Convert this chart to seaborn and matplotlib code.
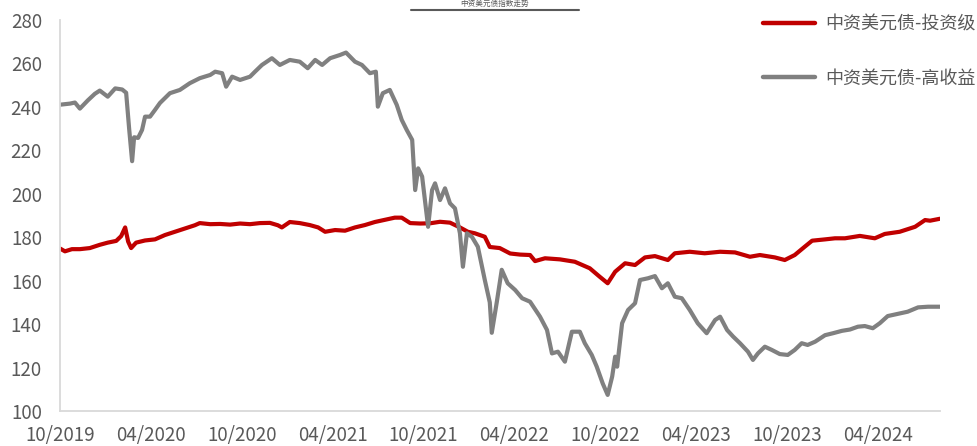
import pandas as pd
import matplotlib.pyplot as plt
import matplotlib.dates as mdates
from matplotlib.lines import Line2D
import seaborn as sns

# ==========================================
# DATA
# ==========================================

series_names = ["中资美元债-投资级", "中资美元债-高收益"]
series_colors = ["#C00000", "#808080"]

ig_dates = [
    "2019-10-01", "2019-10-11", "2019-10-25", "2019-11-10", "2019-11-30",
    "2019-12-20", "2020-01-05", "2020-01-22", "2020-02-01", "2020-02-09",
    "2020-02-15", "2020-02-21", "2020-03-02", "2020-03-20", "2020-04-09",
    "2020-04-29", "2020-05-19", "2020-06-08", "2020-06-28", "2020-07-08",
    "2020-07-29", "2020-08-18", "2020-09-07", "2020-09-27", "2020-10-17",
    "2020-11-06", "2020-11-26", "2020-12-12", "2020-12-20", "2021-01-05",
    "2021-01-25", "2021-02-14", "2021-03-03", "2021-03-17", "2021-04-06",
    "2021-04-26", "2021-05-16", "2021-06-05", "2021-06-25", "2021-07-15",
    "2021-08-04", "2021-08-18", "2021-09-04", "2021-09-24", "2021-10-14",
    "2021-11-03", "2021-11-23", "2021-12-13", "2021-12-29", "2022-01-12",
    "2022-02-01", "2022-02-11", "2022-03-03", "2022-03-24", "2022-04-13",
    "2022-05-03", "2022-05-13", "2022-06-02", "2022-07-02", "2022-08-01",
    "2022-08-31", "2022-09-20", "2022-10-06", "2022-10-21", "2022-11-10",
    "2022-11-30", "2022-12-20", "2023-01-09", "2023-02-04", "2023-02-18",
    "2023-03-20", "2023-04-19", "2023-05-20", "2023-06-19", "2023-07-19",
    "2023-08-08", "2023-09-07", "2023-09-27", "2023-10-17", "2023-11-06",
    "2023-11-21", "2023-12-17", "2024-01-06", "2024-01-26", "2024-02-25",
    "2024-03-26", "2024-04-15", "2024-05-15", "2024-06-15", "2024-07-05",
    "2024-07-15", "2024-08-04",
]
ig_values = [
    174.8, 173.5, 174.5, 174.5, 175.0,
    176.5, 177.5, 178.3, 180.5, 184.5,
    178.0, 175.0, 177.5, 178.5, 179.0,
    181.0, 182.5, 184.0, 185.5, 186.5,
    186.0, 186.1, 185.8, 186.3, 186.0,
    186.5, 186.6, 185.5, 184.5, 187.0,
    186.5, 185.6, 184.5, 182.5, 183.3,
    183.0, 184.5, 185.6, 187.0, 188.0,
    189.0, 189.0, 186.5, 186.3, 186.4,
    187.1, 186.7, 184.5, 182.5, 181.8,
    180.2, 175.5, 175.0, 172.5, 172.0,
    171.8, 169.0, 170.3, 169.8, 168.7,
    165.7, 161.8, 158.8, 164.1, 168.0,
    167.2, 170.7, 171.3, 169.5, 172.6,
    173.3, 172.6, 173.3, 173.0, 171.0,
    171.8, 170.7, 169.5, 171.8, 175.6,
    178.4, 179.0, 179.5, 179.5, 180.6,
    179.5, 181.5, 182.5, 184.8, 187.9,
    187.6, 188.5,
]

hy_dates = [
    "2019-10-01", "2019-10-21", "2019-10-31", "2019-11-10", "2019-11-26",
    "2019-12-10", "2019-12-20", "2020-01-05", "2020-01-20", "2020-02-03",
    "2020-02-11", "2020-02-17", "2020-02-23", "2020-02-27", "2020-03-06",
    "2020-03-14", "2020-03-20", "2020-03-30", "2020-04-09", "2020-04-19",
    "2020-05-09", "2020-05-29", "2020-06-18", "2020-07-08", "2020-07-29",
    "2020-08-08", "2020-08-22", "2020-08-30", "2020-09-11", "2020-09-27",
    "2020-10-17", "2020-10-27", "2020-11-10", "2020-11-30", "2020-12-16",
    "2021-01-05", "2021-01-25", "2021-02-10", "2021-02-25", "2021-03-11",
    "2021-03-27", "2021-04-16", "2021-04-28", "2021-05-16", "2021-05-30",
    "2021-06-15", "2021-06-27", "2021-07-01", "2021-07-11", "2021-07-25",
    "2021-08-08", "2021-08-18", "2021-08-28", "2021-09-08", "2021-09-14",
    "2021-09-20", "2021-09-28", "2021-10-10", "2021-10-18", "2021-10-24",
    "2021-11-03", "2021-11-13", "2021-11-23", "2021-12-03", "2021-12-13",
    "2021-12-19", "2021-12-27", "2022-01-06", "2022-01-18", "2022-02-01",
    "2022-02-11", "2022-02-15", "2022-02-25", "2022-03-07", "2022-03-19",
    "2022-04-03", "2022-04-17", "2022-05-03", "2022-05-23", "2022-06-06",
    "2022-06-16", "2022-06-28", "2022-07-12", "2022-07-26", "2022-08-11",
    "2022-08-21", "2022-09-04", "2022-09-14", "2022-09-26", "2022-10-06",
    "2022-10-15", "2022-10-21", "2022-10-25", "2022-11-04", "2022-11-16",
    "2022-11-30", "2022-12-10", "2022-12-26", "2023-01-09", "2023-01-23",
    "2023-02-04", "2023-02-18", "2023-03-04", "2023-03-20", "2023-04-05",
    "2023-04-23", "2023-05-10", "2023-05-20", "2023-06-03", "2023-06-15",
    "2023-06-29", "2023-07-15", "2023-07-25", "2023-08-04", "2023-08-18",
    "2023-09-01", "2023-09-17", "2023-10-03", "2023-10-17", "2023-10-31",
    "2023-11-12", "2023-11-27", "2023-12-17", "2024-01-02", "2024-01-20",
    "2024-02-05", "2024-02-21", "2024-03-06", "2024-03-22", "2024-04-05",
    "2024-04-21", "2024-05-11", "2024-05-31", "2024-06-21", "2024-07-11",
    "2024-08-04",
]
hy_values = [
    241.0, 241.5, 242.0, 239.2, 243.0,
    246.0, 247.5, 244.7, 248.5, 248.0,
    246.5, 230.0, 215.0, 226.0, 225.7,
    229.4, 235.5, 235.5, 238.6, 241.8,
    246.3, 247.8, 250.9, 253.2, 254.7,
    256.2, 255.5, 249.3, 253.9, 252.4,
    253.9, 256.2, 259.3, 262.4, 259.3,
    261.6, 260.8, 257.8, 261.6, 259.3,
    262.4, 263.9, 265.0, 260.8, 259.3,
    255.5, 256.2, 240.1, 246.3, 247.8,
    240.9, 234.0, 229.4, 224.8, 201.7,
    211.7, 207.9, 184.8, 201.7, 204.8,
    197.1, 202.5, 195.6, 193.3, 181.8,
    166.4, 181.8, 180.2, 175.6, 160.3,
    150.0, 136.0, 150.0, 165.0, 158.8,
    155.7, 151.9, 150.3, 143.4, 137.3,
    126.5, 127.3, 122.7, 136.5, 136.5,
    131.2, 125.8, 120.4, 112.7, 107.4,
    115.8, 125.0, 120.4, 140.4, 146.5,
    149.6, 160.3, 161.1, 162.1, 156.5,
    158.8, 152.6, 151.9, 146.5, 140.4,
    135.8, 141.9, 143.4, 137.3, 134.3,
    131.2, 127.3, 123.5, 126.5, 129.6,
    128.1, 126.2, 125.8, 128.1, 131.2,
    130.4, 131.9, 134.9, 135.8, 136.9,
    137.5, 138.8, 139.1, 138.1, 140.4,
    143.7, 144.7, 145.7, 147.7, 148.0,
    148.0,
]

tick_months = [
    "2019-10-01", "2020-04-01", "2020-10-01", "2021-04-01", "2021-10-01",
    "2022-04-01", "2022-10-01", "2023-04-01", "2023-10-01", "2024-04-01",
]
y_ticks = [100, 120, 140, 160, 180, 200, 220, 240, 260, 280]
x_start = "2019-10-01"
x_end = "2024-08-04"
title_text = "中资美元债指数走势"

# ==========================================
# STYLE
# ==========================================

sns.set_style("white")
plt.rcParams["font.family"] = ["Noto Sans CJK SC", "DejaVu Sans"]

axis_grey = "#D9D9D9"
text_grey = "#595959"

# ==========================================
# BUILD TABLE
# ==========================================

df = pd.concat([
    pd.DataFrame({"date": pd.to_datetime(ig_dates), "value": ig_values,
                  "series": series_names[0]}),
    pd.DataFrame({"date": pd.to_datetime(hy_dates), "value": hy_values,
                  "series": series_names[1]}),
], ignore_index=True)

# ==========================================
# PLOT
# ==========================================

fig = plt.figure(figsize=(9.77, 4.46), dpi=100)
ax = fig.add_axes([0.0614, 0.0785, 0.9007, 0.8767])

sns.lineplot(
    data=df,
    x="date",
    y="value",
    hue="series",
    hue_order=series_names,
    palette=dict(zip(series_names, series_colors)),
    linewidth=3.0,
    estimator=None,
    legend=False,
    ax=ax,
)

ax.set_xlim(pd.Timestamp(x_start), pd.Timestamp(x_end))
ax.set_ylim(y_ticks[0], y_ticks[-1])
ax.set_yticks(y_ticks)
ax.set_xticks(pd.to_datetime(tick_months))
ax.xaxis.set_major_formatter(mdates.DateFormatter("%m/%Y"))
ax.set_xlabel("")
ax.set_ylabel("")

for side in ["top", "right"]:
    ax.spines[side].set_visible(False)
for side in ["left", "bottom"]:
    ax.spines[side].set_color(axis_grey)
    ax.spines[side].set_linewidth(1.3)

ax.tick_params(axis="both", colors=axis_grey, labelcolor=text_grey,
               labelsize=13.5, length=5, width=1.2, direction="out")
ax.tick_params(axis="y", pad=8)
ax.tick_params(axis="x", pad=5)

# legend
handles = [Line2D([0], [0], color=c, linewidth=3.2) for c in series_colors]
fig.legend(
    handles,
    series_names,
    loc="upper right",
    bbox_to_anchor=(1 + 6 / 977, 1 - 8 / 446),
    frameon=False,
    fontsize=13,
    labelcolor=text_grey,
    handlelength=2.9,
    handletextpad=0.55,
    labelspacing=2.0,
    borderaxespad=0.0,
)

# small title sitting on an underline at the top
fig.text(495 / 977, 1 - 8 / 446, title_text, ha="center", va="bottom",
         fontsize=5.5, color=text_grey)
fig.add_artist(Line2D([411 / 977, 579 / 977], [1 - 9.5 / 446, 1 - 9.5 / 446],
                      transform=fig.transFigure, color=text_grey,
                      linewidth=1.5))

fig.savefig("out.png", dpi=100)
